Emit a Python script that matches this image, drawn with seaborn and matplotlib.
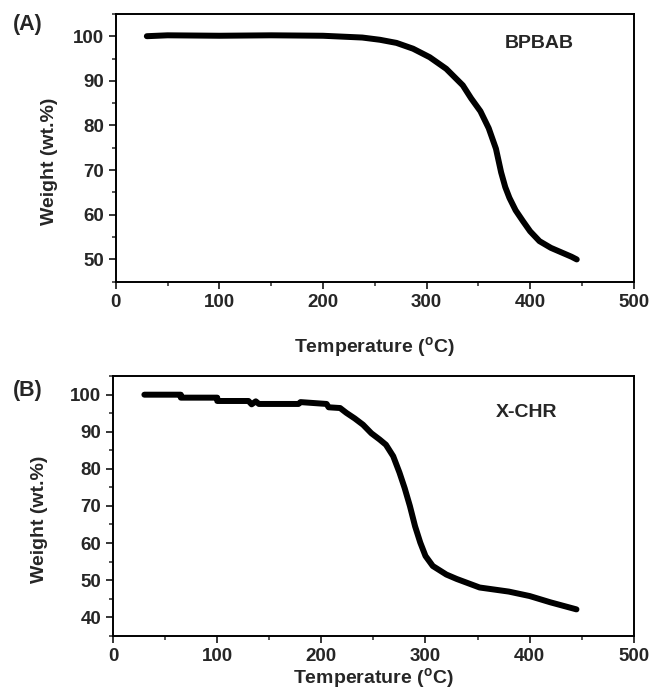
import matplotlib
matplotlib.use("Agg")
import matplotlib.pyplot as plt
from matplotlib.ticker import MultipleLocator
import pandas as pd
import seaborn as sns

# TGA curve of BPBAB (panel A)
temp_a = [30, 50, 100, 150, 200, 238, 255, 271, 287, 303, 319, 335, 343, 352,
          360, 367, 372, 376, 380, 386, 393, 400, 409, 420, 430, 440, 445]
weight_a = [100.0, 100.2, 100.1, 100.2, 100.1, 99.7, 99.2, 98.5, 97.2, 95.3, 92.7,
            89.0, 86.1, 83.2, 79.4, 74.8, 69.5, 66.2, 63.8, 61.0, 58.6, 56.3, 54.1,
            52.6, 51.6, 50.6, 50.0]

# TGA curve of X-CHR (panel B)
temp_b = [30, 65, 65, 100, 100, 130, 133, 137, 140, 178, 180, 205, 207, 218, 224,
          232, 240, 248, 256, 262, 269, 275, 280, 285, 290, 295, 300, 307, 320,
          330, 352, 380, 400, 420, 445]
weight_b = [100.0, 100.0, 99.2, 99.2, 98.3, 98.3, 97.4, 98.2, 97.5, 97.5, 98.0, 97.5,
            96.6, 96.4, 95.1, 93.6, 91.9, 89.6, 87.9, 86.5, 83.4, 79.0, 74.8, 70.0,
            64.5, 60.1, 56.5, 53.8, 51.5, 50.3, 48.0, 46.9, 45.7, 44.0, 42.1]

x_ticks = [0, 100, 200, 300, 400, 500]
y_ticks_a = [50, 60, 70, 80, 90, 100]
y_ticks_b = [40, 50, 60, 70, 80, 90, 100]

sns.set_theme(style="white")
plt.rcParams['font.family'] = ['Liberation Sans', 'DejaVu Sans']
plt.rcParams['font.weight'] = 'bold'
plt.rcParams['mathtext.fontset'] = 'custom'
plt.rcParams['mathtext.rm'] = 'Liberation Sans:bold'
plt.rcParams['mathtext.bf'] = 'Liberation Sans:bold'

fig = plt.figure(figsize=(6.54, 6.94), dpi=100)
ax_a = fig.add_axes([0.177, 0.594, 0.792, 0.386])
ax_b = fig.add_axes([0.173, 0.084, 0.796, 0.374])

panels = [
    (ax_a, temp_a, weight_a, y_ticks_a, (45, 105), "BPBAB", (0.818, 0.89), -0.111, 18),
    (ax_b, temp_b, weight_b, y_ticks_b, (35, 105), "X-CHR", (0.795, 0.86), -0.125, 1),
]

for ax, tx, wy, yt, ylim, name, npos, ylab_x, pad in panels:
    df = pd.DataFrame({"T": tx, "W": wy})
    sns.lineplot(data=df, x="T", y="W", ax=ax, color="black", lw=4.3,
                 estimator=None, sort=False)
    ax.set_xlim(0, 500)
    ax.set_ylim(*ylim)
    ax.set_xticks(x_ticks)
    ax.set_yticks(yt)
    ax.xaxis.set_minor_locator(MultipleLocator(50))
    ax.yaxis.set_minor_locator(MultipleLocator(5))
    ax.tick_params(which='major', direction='out', length=5, width=1.3,
                   labelsize=13.5, bottom=True, left=True, pad=3.5)
    ax.tick_params(which='minor', direction='out', length=3, width=1.1,
                   bottom=True, left=True)
    for lab in ax.get_xticklabels() + ax.get_yticklabels():
        lab.set_fontweight('bold')
    for sp in ax.spines.values():
        sp.set_visible(True)
        sp.set_color('black')
        sp.set_linewidth(1.4)
    ax.set_ylabel("Weight (wt.%)", fontsize=14, fontweight='bold')
    ax.yaxis.set_label_coords(ylab_x, 0.45)
    ax.set_xlabel(r"Temperature ($^\mathrm{o}$C)", fontsize=14, fontweight='bold',
                  labelpad=pad)
    ax.text(npos[0], npos[1], name, transform=ax.transAxes, fontsize=14,
            fontweight='bold', ha='center', va='center')

fig.text(0.043, 0.964, "(A)", fontsize=15.5, fontweight='bold', ha='center', va='center')
fig.text(0.043, 0.438, "(B)", fontsize=15.5, fontweight='bold', ha='center', va='center')

fig.savefig("out.png", dpi=100, facecolor='white')
